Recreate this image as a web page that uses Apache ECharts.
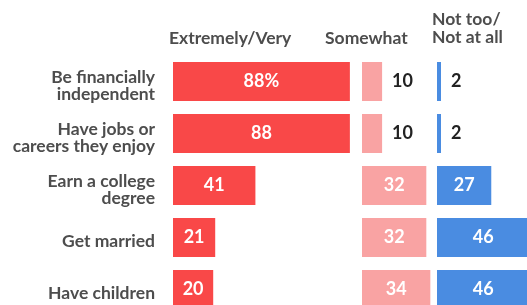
<!DOCTYPE html>
<html>
<head>
<meta charset="utf-8">
<script src="https://cdn.jsdelivr.net/npm/echarts@6/dist/echarts.min.js"></script>
<style>
  html, body { margin: 0; padding: 0; background: #fff; }
  #chart { width: 527px; height: 305px; }
</style>
</head>
<body>
<div id="chart"></div>
<script>
const categories = [
  'Be financially\nindependent',
  'Have jobs or\ncareers they enjoy',
  'Earn a college\ndegree',
  'Get married',
  'Have children'
];
const veryValues = [88, 88, 41, 21, 20];
const somewhatValues = [10, 10, 32, 32, 34];
const notValues = [2, 2, 27, 46, 46];
const headers = ['Extremely/Very', 'Somewhat', 'Not too/\nNot at all'];

const colors = ['#F94848', '#F9A3A3', '#4A8CE1'];
const fontFamily = 'Lato, "Open Sans", sans-serif';

// each column is its own grid, same px per percent point
const gridLefts = [173, 362, 437];
const unitWidth = 201; // px for 100 points

function buildData(values, first) {
  return values.map((v, i) => {
    const inside = v >= 15;
    return {
      value: v,
      label: {
        show: true,
        position: inside ? 'inside' : 'right',
        distance: 10,
        color: inside ? '#fff' : '#222',
        fontFamily: fontFamily,
        fontWeight: 'bold',
        fontSize: 18,
        formatter: (first && i === 0) ? v + '%' : String(v)
      }
    };
  });
}

const chart = echarts.init(document.getElementById('chart'));

const grids = gridLefts.map(left => ({
  left: left, top: 55.5, width: unitWidth, height: 260,
  outerBoundsMode: 'none', containLabel: false
}));
const xAxes = gridLefts.map((l, i) => ({
  type: 'value', gridIndex: i, min: 0, max: 100, show: false
}));
const yAxes = gridLefts.map((l, i) => ({
  type: 'category', gridIndex: i, data: categories, inverse: true,
  axisLine: { show: false }, axisTick: { show: false }, splitLine: { show: false },
  axisLabel: i === 0 ? {
    show: true, margin: 18, align: 'right',
    // labels sit a little below the bar centre in the original
    formatter: v => '{pad|}\n' + v.split('\n').map(s => '{c|' + s + '}').join('\n'),
    rich: {
      pad: { height: 8, lineHeight: 8 },
      c: {
        color: '#4D4D4D', fontFamily: fontFamily, fontWeight: 'bold',
        fontSize: 17.5, lineHeight: 17, align: 'right'
      }
    }
  } : { show: false }
}));

const seriesValues = [veryValues, somewhatValues, notValues];

chart.setOption({
  animation: false,
  grid: grids,
  xAxis: xAxes,
  yAxis: yAxes,
  graphic: [
    { type: 'text', left: 169, top: 29, style: { text: headers[0], fill: '#4D4D4D', font: 'bold 17.5px ' + fontFamily } },
    { type: 'text', left: 325, top: 29, style: { text: headers[1], fill: '#4D4D4D', font: 'bold 17.5px ' + fontFamily } },
    { type: 'text', left: 432, top: 10, style: { text: headers[2], fill: '#4D4D4D', font: 'bold 17.5px ' + fontFamily, lineHeight: 18 } }
  ],
  series: seriesValues.map((vals, i) => ({
    type: 'bar',
    xAxisIndex: i,
    yAxisIndex: i,
    barWidth: 39,
    itemStyle: { color: colors[i] },
    data: buildData(vals, i === 0)
  }))
});
</script>
</body>
</html>
